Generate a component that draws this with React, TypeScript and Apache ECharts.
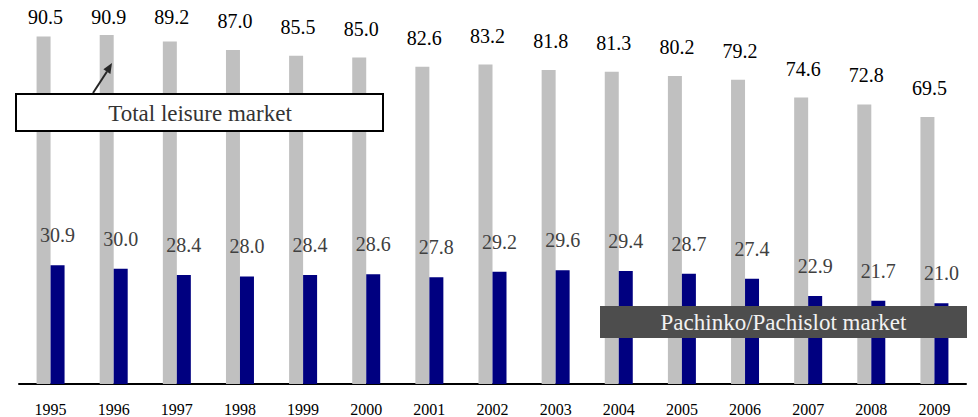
import React, { useEffect, useRef } from "react";
import * as echarts from "echarts";

const years = ["1995", "1996", "1997", "1998", "1999", "2000", "2001", "2002", "2003", "2004", "2005", "2006", "2007", "2008", "2009"];
const totalLeisure = [90.5, 90.9, 89.2, 87.0, 85.5, 85.0, 82.6, 83.2, 81.8, 81.3, 80.2, 79.2, 74.6, 72.8, 69.5];
const pachinko = [30.9, 30.0, 28.4, 28.0, 28.4, 28.6, 27.8, 29.2, 29.6, 29.4, 28.7, 27.4, 22.9, 21.7, 21.0];

const FONT = "'Liberation Serif', 'Times New Roman', serif";

export default function App() {
  const ref = useRef<HTMLDivElement>(null);
  useEffect(() => {
    document.body.style.margin = "0";
    const chart = echarts.init(ref.current!, null, { renderer: "svg" });
    chart.setOption({
      animation: false,
      grid: { left: 19, right: 12, top: 0, bottom: 33 },
      xAxis: {
        type: "category",
        data: years,
        axisLine: { lineStyle: { color: "#000", width: 2 } },
        axisTick: { inside: true, length: 5, lineStyle: { color: "#000", width: 2 } },
        axisLabel: { color: "#000", fontSize: 16, fontFamily: FONT, margin: 17 },
      },
      yAxis: { type: "value", min: 0, max: 100, show: false, splitLine: { show: false } },
      series: [
        {
          type: "bar",
          data: totalLeisure,
          barWidth: 14,
          barGap: "0%",
          itemStyle: { color: "#c0c0c0" },
          label: {
            show: true,
            position: "top",
            distance: 19,
            color: "#000",
            fontSize: 20,
            fontFamily: FONT,
            formatter: (p: any) => Number(p.value).toFixed(1),
          },
          labelLayout: (p: any) => {
            const r = p.labelRect;
            const cx = r.x + r.width / 2 + 2;
            const cy = r.y + r.height / 2;
            return {
              x: cx,
              y: Math.max(cy, 17),
              align: "center",
              verticalAlign: "middle",
            };
          },
        },
        {
          type: "bar",
          data: pachinko,
          barWidth: 14,
          barGap: "0%",
          itemStyle: { color: "#000080" },
          label: {
            show: true,
            position: "top",
            distance: 20,
            color: "#404040",
            fontSize: 20,
            fontFamily: FONT,
            formatter: (p: any) => Number(p.value).toFixed(1),
          },
        },
      ],
      graphic: [
        {
          type: "line",
          z: 100,
          shape: { x1: 93, y1: 93, x2: 107, y2: 71.5 },
          style: { stroke: "#262626", lineWidth: 2 },
        },
        {
          type: "polygon",
          z: 100,
          shape: { points: [[112, 63], [110.4, 74], [103.4, 69.2]] },
          style: { fill: "#262626" },
        },
        {
          type: "rect",
          z: 100,
          shape: { x: 16, y: 94, width: 367, height: 37 },
          style: { fill: "#fff", stroke: "#000", lineWidth: 2 },
        },
        {
          type: "text",
          z: 101,
          x: 200,
          y: 113,
          style: {
            text: "Total leisure market",
            fill: "#333",
            font: `23px ${FONT}`,
            align: "center",
            verticalAlign: "middle",
          },
        },
        {
          type: "rect",
          z: 100,
          shape: { x: 600, y: 306, width: 367, height: 32 },
          style: { fill: "#4d4d4d" },
        },
        {
          type: "text",
          z: 101,
          x: 783.5,
          y: 322,
          style: {
            text: "Pachinko/Pachislot market",
            fill: "#f2f2f2",
            font: `23px ${FONT}`,
            align: "center",
            verticalAlign: "middle",
          },
        },
      ],
    });
    return () => chart.dispose();
  }, []);
  return <div ref={ref} style={{ width: 978, height: 417 }} />;
}
